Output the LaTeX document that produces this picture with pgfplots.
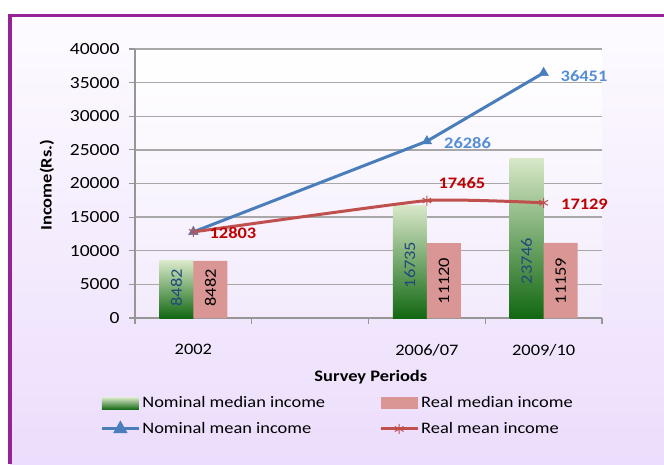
\documentclass[border=0pt]{standalone}
\usepackage{fontspec}
\setmainfont{Carlito}[FakeStretch=1.15]
\usepackage{pgfplots}
\pgfplotsset{compat=1.18}
\definecolor{purp}{RGB}{150,34,152}
\definecolor{bgtop}{RGB}{253,251,255}
\definecolor{bgbot}{RGB}{236,221,252}
\definecolor{patop}{RGB}{255,255,255}
\definecolor{pabot}{RGB}{243,235,252}
\definecolor{gridc}{RGB}{168,168,168}
\definecolor{axisc}{RGB}{150,150,150}
\definecolor{bluel}{RGB}{74,126,187}
\definecolor{bluelab}{RGB}{85,142,213}
\definecolor{redl}{RGB}{192,80,77}
\definecolor{redlab}{RGB}{192,0,0}
\definecolor{gtop}{RGB}{216,232,200}
\definecolor{gbot}{RGB}{18,104,18}
\definecolor{pinkc}{RGB}{218,150,148}
\definecolor{navy}{RGB}{31,73,125}
\pgfplotsset{
  gleg/.style={legend image code/.code={\fill[top color=gtop, bottom color=gbot] (0pt,-6pt) rectangle (37pt,6pt);}},
  pleg/.style={legend image code/.code={\fill[pinkc] (0pt,-6pt) rectangle (37pt,6pt);}},
  bleg/.style={legend image code/.code={\draw[bluel, line width=3pt] (0pt,0pt) -- (37pt,0pt);
     \fill[bluel] (18.5pt,0pt) +(90:5.5pt) -- +(210:5.5pt) -- +(330:5.5pt) -- cycle;}},
  rleg/.style={legend image code/.code={\draw[redl, line width=3pt] (0pt,0pt) -- (37pt,0pt);
     \draw[redl, line width=1pt] (18.5pt,0pt) +(90:5pt) -- +(270:5pt) (18.5pt,0pt) +(30:5pt) -- +(210:5pt) (18.5pt,0pt) +(150:5pt) -- +(330:5pt);}},
  gbar/.style={ybar, bar width=34pt, bar shift=-17pt, draw=none, top color=gtop, bottom color=gbot},
}
\begin{document}
\fontsize{16}{19}\selectfont%
\begin{tikzpicture}
\path[use as bounding box] (0pt,0pt) rectangle (664pt,464pt);
\fill[white] (0pt,0pt) rectangle (664pt,464pt);
\shade[top color=bgtop, bottom color=bgbot] (10pt,0pt) rectangle (664pt,448.5pt);
\draw[purp, line width=3.5pt] (10pt,0pt) -- (10pt,448.5pt) -- (664pt,448.5pt);
\begin{axis}[
  at={(135pt,146pt)}, anchor=south west,
  scale only axis, width=467pt, height=269pt,
  xmin=-0.5, xmax=3.5, ymin=0, ymax=40000,
  axis lines*=left,
  axis background/.style={shade, top color=patop, bottom color=pabot},
  axis line style={draw=axisc, line width=1.3pt},
  tick style={draw=axisc, line width=1.1pt},
  tick align=outside, major tick length=6pt,
  ytick={0,5000,...,40000},
  scaled y ticks=false,
  /pgf/number format/1000 sep={},
  /pgf/number format/assume math mode=true,
  yticklabel style={xshift=-4pt, font=\fontsize{17}{20}\selectfont},
  ymajorgrids, grid style={draw=gridc, line width=1.3pt},
  xtick={-0.5,0.5,1.5,2.5,3.5}, xticklabels={},
  extra x ticks={0,2,3},
  extra x tick labels={2002,2006/07,2009/10},
  extra x tick style={major tick length=0pt, grid=none, xticklabel style={yshift=-21pt}},
  xlabel={\bfseries Survey Periods},
  xlabel style={at={(axis description cs:0.505,-0.22)}, anchor=center},
  ylabel={\bfseries Income(Rs.)},
  ylabel style={at={(axis description cs:-0.1884,0.494)}, anchor=center},
  clip=false,
  legend columns=2,
  legend cell align=left,
  legend style={at={(axis description cs:-0.081,-0.277)}, anchor=north west,
    draw=none, fill=none, row sep=8pt,
    /tikz/every even column/.append style={column sep=52pt}},
]
\addplot[gbar, gleg] coordinates {(0,8482)};
\addlegendentry{Nominal median income}
\addplot[gbar, forget plot] coordinates {(2,16735)};
\addplot[gbar, forget plot] coordinates {(3,23746)};
\addplot[ybar, bar width=34pt, bar shift=17pt, draw=none, fill=pinkc, pleg]
  coordinates {(0,8482) (2,11120) (3,11159)};
\addlegendentry{Real median income}
\addplot[color=bluel, line width=3pt, mark=triangle*, mark size=5.5pt,
  mark options={fill=bluel, line width=0.5pt}, bleg]
  coordinates {(0,12803) (2,26286) (3,36451)};
\addlegendentry{Nominal mean income}
\addplot[color=redl, line width=3pt, smooth, tension=0.25, mark=asterisk, mark size=5pt,
  mark options={line width=1pt}, rleg]
  coordinates {(0,12803) (2,17465) (3,17129)};
\addlegendentry{Real mean income}
% bar value labels
\addplot[draw=none, forget plot, nodes near coords, point meta=explicit symbolic,
  every node near coord/.style={rotate=90, anchor=center, text=navy}]
  coordinates {(-0.1456,4461)[8482] (1.8544,7881)[16735] (2.8544,8476)[23746]};
\addplot[draw=none, forget plot, nodes near coords, point meta=explicit symbolic,
  every node near coord/.style={rotate=90, anchor=center, text=black}]
  coordinates {(0.1456,4461)[8482] (2.1456,5502)[11120] (3.1456,5502)[11159]};
% line value labels
\addplot[draw=none, forget plot, nodes near coords, point meta=explicit symbolic,
  every node near coord/.style={anchor=center, text=bluelab, font=\bfseries}]
  coordinates {(2.348,26022)[26286] (3.346,35985)[36451]};
\addplot[draw=none, forget plot, nodes near coords, point meta=explicit symbolic,
  every node near coord/.style={anchor=center, text=redlab, font=\bfseries}]
  coordinates {(0.339,12639)[12803] (2.30,20074)[17465] (3.35,16952)[17129]};
\end{axis}
\end{tikzpicture}
\end{document}
